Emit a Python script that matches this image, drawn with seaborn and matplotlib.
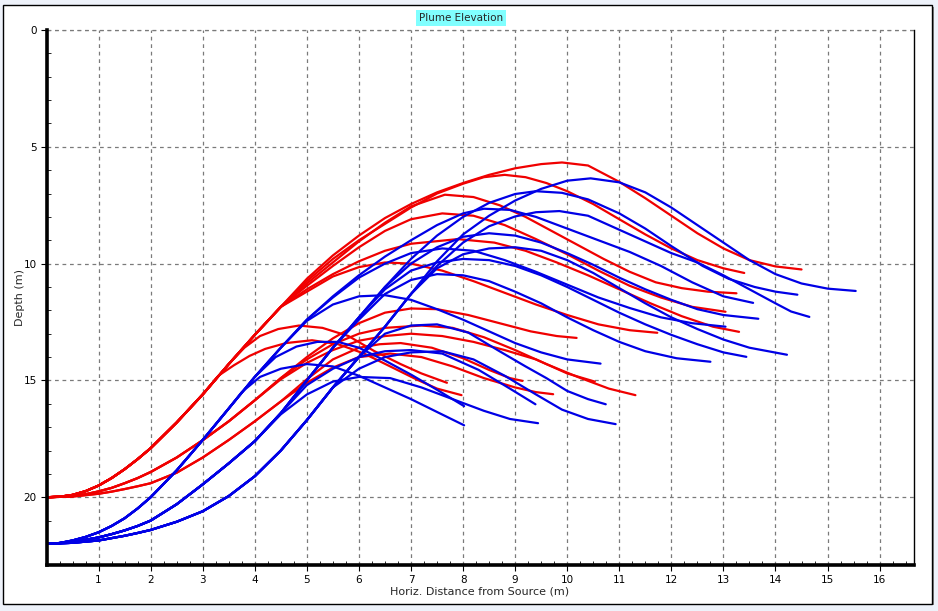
import matplotlib
matplotlib.use("Agg")
import matplotlib.pyplot as plt
from matplotlib.patches import Rectangle
from matplotlib.ticker import MultipleLocator
import seaborn as sns
import pandas as pd

# ---------------- data (x = horizontal distance m, d = depth m) ----------------
X_TICKS = list(range(1, 17))
Y_TICKS = [0, 5, 10, 15, 20]

# shared rising portions of the three red (port at 20 m) and three blue (port at 22 m) bundles
RED_A = [(0, 20), (0.25, 19.98), (0.5, 19.9), (0.75, 19.74), (1, 19.5), (1.25, 19.18), (1.5, 18.8), (1.75, 18.37), (2, 17.9),
         (2.5, 16.8), (3, 15.6), (3.5, 14.3), (4, 13.05), (4.5, 11.85)]
RED_B = [(0, 20), (0.5, 19.95), (0.75, 19.87), (1, 19.75), (1.25, 19.6), (1.5, 19.4), (1.75, 19.18), (2, 18.92), (2.5, 18.3),
         (3, 17.56), (3.5, 16.75), (4, 15.85), (4.5, 14.9)]
RED_C = [(0, 20), (0.5, 19.97), (1, 19.85), (1.25, 19.76), (1.5, 19.65), (1.75, 19.53), (2, 19.4), (2.5, 18.95), (3, 18.3),
         (3.5, 17.55), (4, 16.75), (4.5, 15.9)]
BLUE_A = [(0, 22), (0.25, 21.96), (0.5, 21.85), (0.75, 21.7), (1, 21.5), (1.25, 21.23), (1.5, 20.9), (1.75, 20.48), (2, 20.0),
          (2.5, 18.85), (3, 17.55), (3.5, 16.2), (4, 14.85), (4.5, 13.6), (5, 12.4), (5.5, 11.4)]
BLUE_B = [(0, 22), (0.5, 21.92), (1, 21.72), (1.25, 21.58), (1.5, 21.42), (1.75, 21.23), (2, 21.0), (2.5, 20.3), (3, 19.45),
          (3.5, 18.55), (4, 17.6), (4.5, 16.4), (5, 15.0), (5.5, 13.6), (6, 12.3), (6.5, 11.0)]
BLUE_C = [(0, 22), (0.5, 21.95), (1, 21.85), (1.5, 21.65), (1.75, 21.53), (2, 21.4), (2.5, 21.05), (3, 20.6), (3.5, 19.95),
          (4, 19.1), (4.5, 18.0), (5, 16.7), (5.5, 15.3), (6, 14.0), (6.5, 12.7), (7, 11.3)]

# individual trajectories after leaving their bundle
R1 = [(5, 10.65), (5.5, 9.65), (6, 8.8), (6.5, 8.05), (7, 7.45), (7.5, 6.95), (8, 6.55), (8.5, 6.2), (9, 5.92), (9.5, 5.74), (9.9, 5.67), (10.4, 5.8), (11, 6.5), (11.5, 7.2), (12, 7.95), (12.5, 8.7), (13, 9.35), (13.5, 9.85), (14, 10.12), (14.5, 10.25)]
R2 = [(5, 10.75), (5.5, 9.8), (6, 9.0), (6.5, 8.3), (7, 7.6), (7.5, 7.0), (8, 6.58), (8.4, 6.3), (8.8, 6.2), (9.2, 6.3), (9.6, 6.55), (10, 6.9), (10.5, 7.45), (11, 8.1), (11.5, 8.75), (12, 9.35), (12.5, 9.85), (13, 10.2), (13.4, 10.4)]
R3 = [(5, 10.85), (5.5, 9.95), (6, 9.05), (6.5, 8.25), (7, 7.55), (7.65, 7.05), (8.2, 7.15), (8.7, 7.5), (9.2, 8.0), (9.7, 8.6), (10.2, 9.2), (10.7, 9.8), (11.2, 10.35), (11.7, 10.8), (12.2, 11.05), (12.7, 11.2), (13.25, 11.27)]
R4 = [(5, 10.95), (5.5, 10.1), (6, 9.3), (6.5, 8.6), (7, 8.1), (7.6, 7.85), (8.2, 7.95), (8.8, 8.35), (9.4, 8.95), (10, 9.6), (10.6, 10.3), (11.2, 10.95), (11.8, 11.45), (12.4, 11.85), (13.04, 12.06)]
R5 = [(5, 11.1), (5.5, 10.45), (6, 9.9), (6.5, 9.45), (7, 9.15), (7.9, 8.95), (8.6, 9.1), (9.2, 9.45), (9.8, 9.95), (10.4, 10.5), (11, 11.1), (11.6, 11.7), (12.2, 12.25), (12.8, 12.7), (13.3, 12.92)]
R6 = [(5, 11.2), (5.5, 10.55), (6, 10.15), (6.5, 9.95), (7, 10.0), (7.6, 10.3), (8.2, 10.75), (8.8, 11.25), (9.4, 11.75), (10, 12.2), (10.6, 12.6), (11.2, 12.85), (11.73, 12.96)]
R7 = [(4.5, 14.9), (5, 14.0), (5.5, 13.2), (6, 12.55), (6.5, 12.1), (7, 11.92), (7.5, 11.95), (8.1, 12.2), (8.7, 12.55), (9.3, 12.9), (9.8, 13.1), (10.18, 13.18)]
R8 = [(3.5, 14.3), (3.8, 13.6), (4.1, 13.1), (4.45, 12.8), (4.85, 12.65), (5.3, 12.75), (5.8, 13.1), (6.3, 13.75), (6.8, 14.3), (7.2, 14.7), (7.69, 15.1)]
R9 = [(3.3, 14.8), (3.6, 14.35), (3.9, 13.95), (4.2, 13.65), (4.6, 13.4), (5.1, 13.28), (5.6, 13.45), (6.1, 13.85), (6.6, 14.4), (7.1, 14.95), (7.5, 15.35), (7.97, 15.63)]
R10 = [(4.5, 15.9), (5, 14.95), (5.5, 14.1), (6, 13.6), (6.4, 13.45), (6.8, 13.4), (7.4, 13.6), (8, 14.05), (8.5, 14.55), (8.9, 14.9), (9.14, 15.02)]
R11 = [(4.5, 14.95), (5, 14.25), (5.5, 13.7), (6, 13.3), (6.5, 13.1), (7, 13.0), (7.6, 13.1), (8.2, 13.35), (8.8, 13.7), (9.4, 14.1), (10, 14.7), (10.53, 15.05)]
R12 = [(4.5, 15.9), (5, 15.1), (5.5, 14.45), (6, 14.0), (6.6, 13.85), (7.2, 14.0), (7.8, 14.4), (8.4, 14.9), (9, 15.3), (9.4, 15.5), (9.73, 15.59)]
R13 = [(4.5, 14.9), (5, 14.1), (5.5, 13.45), (6, 13.0), (6.5, 12.75), (7.2, 12.65), (7.8, 12.75), (8.4, 13.15), (9, 13.7), (9.6, 14.3), (10.2, 14.85), (10.8, 15.35), (11.31, 15.63)]

B1 = [(7, 11.3), (7.5, 9.9), (8, 8.75), (8.5, 7.95), (9, 7.3), (9.5, 6.8), (10, 6.45), (10.45, 6.35), (11, 6.52), (11.5, 6.95), (12, 7.6), (12.5, 8.35), (13, 9.1), (13.5, 9.85), (14, 10.45), (14.5, 10.85), (15, 11.07), (15.54, 11.17)]
B2 = [(6.5, 11.0), (7, 9.8), (7.5, 8.8), (8, 8.0), (8.5, 7.4), (9, 7.02), (9.4, 6.9), (9.9, 6.97), (10.4, 7.25), (11, 7.85), (11.5, 8.5), (12, 9.25), (12.6, 10.1), (13.1, 10.65), (13.6, 11.0), (14, 11.2), (14.42, 11.33)]
B3 = [(7, 11.3), (7.5, 10.1), (8, 9.1), (8.5, 8.4), (9, 7.98), (9.4, 7.8), (9.85, 7.75), (10.4, 7.95), (11, 8.55), (11.5, 9.05), (12, 9.55), (12.5, 9.95), (13, 10.5), (13.5, 11.1), (14, 11.7), (14.3, 12.05), (14.65, 12.28)]
B4 = [(5.5, 11.4), (6, 10.5), (6.5, 9.7), (7, 9.0), (7.5, 8.35), (8, 7.85), (8.4, 7.65), (8.9, 7.7), (9.4, 8.0), (10, 8.5), (10.6, 9.0), (11.2, 9.5), (11.8, 10.1), (12.4, 10.8), (13, 11.4), (13.57, 11.68)]
B5 = [(6.5, 11.0), (7, 10.0), (7.5, 9.3), (8, 8.85), (8.5, 8.7), (9, 8.8), (9.5, 9.1), (10, 9.55), (10.5, 10.05), (11, 10.6), (11.5, 11.1), (12, 11.55), (12.5, 11.95), (13, 12.2), (13.67, 12.36)]
B6 = [(5.5, 11.45), (6, 10.6), (6.5, 10.0), (7, 9.55), (7.6, 9.35), (8.2, 9.45), (8.8, 9.85), (9.4, 10.35), (10, 10.9), (10.6, 11.45), (11.2, 11.9), (11.8, 12.3), (12.4, 12.55), (13.04, 12.7)]
B7 = [(7, 11.3), (7.5, 10.2), (8, 9.6), (8.5, 9.35), (9, 9.3), (9.5, 9.45), (10, 9.85), (10.5, 10.4), (11, 11.05), (11.5, 11.7), (12, 12.3), (12.5, 12.8), (13, 13.25), (13.5, 13.6), (14.22, 13.9)]
B8 = [(6.5, 11.1), (7, 10.3), (7.5, 9.95), (8, 9.8), (8.5, 9.85), (9, 10.1), (9.5, 10.5), (10, 11.0), (10.5, 11.55), (11, 12.1), (11.5, 12.6), (12, 13.05), (12.5, 13.45), (13, 13.8), (13.44, 13.99)]
B9 = [(6, 12.4), (6.5, 11.3), (7, 10.7), (7.5, 10.45), (8, 10.5), (8.5, 10.75), (9, 11.2), (9.5, 11.7), (10, 12.3), (10.5, 12.85), (11, 13.35), (11.5, 13.75), (12.1, 14.05), (12.75, 14.2)]
B10 = [(5, 12.45), (5.5, 11.75), (6, 11.4), (6.5, 11.35), (7, 11.55), (7.5, 11.95), (8, 12.4), (8.5, 12.9), (9, 13.4), (9.5, 13.8), (10, 14.1), (10.64, 14.28)]
B11 = [(6, 14.0), (6.5, 13.0), (7, 12.65), (7.5, 12.6), (8.1, 12.95), (8.7, 13.75), (9.2, 14.4), (9.6, 14.9), (10, 15.45), (10.4, 15.8), (10.74, 16.02)]
B12 = [(5.5, 15.3), (6, 14.5), (6.5, 14.0), (7, 13.8), (7.6, 13.75), (8.2, 14.1), (8.8, 14.8), (9.4, 15.6), (9.9, 16.25), (10.4, 16.65), (10.93, 16.87)]
B13 = [(5, 15.2), (5.5, 14.5), (6, 14.0), (6.5, 13.75), (7, 13.7), (7.6, 13.85), (8.3, 14.55), (8.9, 15.35), (9.39, 16.02)]
B14 = [(4.5, 16.45), (5, 15.6), (5.5, 15.05), (6, 14.85), (6.6, 14.9), (7.2, 15.3), (7.8, 15.8), (8.4, 16.3), (8.9, 16.65), (9.44, 16.83)]
B15 = [(4, 14.85), (4.4, 14.0), (4.8, 13.55), (5.2, 13.35), (5.6, 13.35), (6, 13.6), (6.5, 14.15), (7, 14.75), (7.5, 15.4), (8.02, 16.1)]
B16 = [(3.75, 15.5), (4.1, 14.85), (4.5, 14.5), (5, 14.3), (5.5, 14.4), (6, 14.8), (6.5, 15.3), (7, 15.8), (7.5, 16.35), (8.02, 16.92)]

RED_CURVES = [("R1", RED_A, R1), ("R2", RED_A, R2), ("R3", RED_A, R3), ("R4", RED_A, R4),
              ("R5", RED_A, R5), ("R6", RED_A, R6), ("R8", RED_A, R8), ("R9", RED_A, R9),
              ("R7", RED_B, R7), ("R11", RED_B, R11), ("R13", RED_B, R13),
              ("R10", RED_C, R10), ("R12", RED_C, R12)]
BLUE_CURVES = [("B4", BLUE_A, B4), ("B6", BLUE_A, B6), ("B10", BLUE_A, B10), ("B15", BLUE_A, B15), ("B16", BLUE_A, B16),
               ("B2", BLUE_B, B2), ("B5", BLUE_B, B5), ("B8", BLUE_B, B8), ("B9", BLUE_B, B9), ("B13", BLUE_B, B13), ("B14", BLUE_B, B14),
               ("B1", BLUE_C, B1), ("B3", BLUE_C, B3), ("B7", BLUE_C, B7), ("B11", BLUE_C, B11), ("B12", BLUE_C, B12)]

rows = []
for group, curves in (("red", RED_CURVES), ("blue", BLUE_CURVES)):
    for name, rise, tail in curves:
        pts = [p for p in rise if p[0] < tail[0][0]] + tail
        for i, (x, d) in enumerate(pts):
            rows.append({"curve": name, "group": group, "order": i, "x": x, "depth": d})
df = pd.DataFrame(rows)

# ---------------- figure ----------------
W, H = 938, 611
sns.set_style("white")
plt.rcParams["font.family"] = ["DejaVu Sans"]

fig = plt.figure(figsize=(W / 100, H / 100), dpi=100)
fig.patch.set_facecolor("#eef2fa")
fig.patches.append(Rectangle((932 / W, 1 - 605 / H), 2 / W, 598 / H, transform=fig.transFigure,
                             facecolor="#8a8a8a", edgecolor="none", zorder=-20))
fig.patches.append(Rectangle((3 / W, 1 - 604 / H), 929 / W, 599 / H, transform=fig.transFigure,
                             facecolor="white", edgecolor="black", linewidth=1.0, zorder=-10))

ax = fig.add_axes([46.5 / W, 1 - 565 / H, (914 - 46.5) / W, (565 - 30) / H])
ax.set_facecolor("white")
ax.set_zorder(5)

sns.lineplot(data=df, x="x", y="depth", hue="group", units="curve", estimator=None,
             sort=False, palette={"red": "#f00000", "blue": "#0000e6"},
             linewidth=1.6, legend=False, ax=ax)
for ln in ax.get_lines():
    ln.set_solid_joinstyle("round")
    ln.set_solid_capstyle("round")

ax.set_xlim(0, 16.66)
ax.set_ylim(22.9, 0)
ax.set_xticks(X_TICKS)
ax.set_yticks(Y_TICKS)
ax.xaxis.set_minor_locator(MultipleLocator(0.25))
ax.yaxis.set_minor_locator(MultipleLocator(1))
ax.grid(True, which="major", color="#7a7a7a", linestyle=(0, (3, 3)), linewidth=0.9)
ax.axhline(0, color="#7a7a7a", linestyle=(0, (3, 3)), linewidth=0.9, clip_on=False)
ax.set_axisbelow(True)

for s in ("left", "bottom"):
    ax.spines[s].set_linewidth(2.6)
    ax.spines[s].set_color("black")
ax.spines["right"].set_linewidth(1.0)
ax.spines["right"].set_color("black")
ax.spines["top"].set_visible(False)

ax.tick_params(axis="both", which="major", direction="out", length=4, width=0.8,
               labelsize=7.5, colors="black", pad=3, bottom=True, left=True)
ax.tick_params(axis="x", which="minor", direction="in", length=3, width=0.7, bottom=True)
ax.tick_params(axis="y", which="minor", direction="in", length=3, width=0.7, left=True)
ax.set_xlabel("")
ax.set_ylabel("")

fig.text(480 / W, 1 - 592 / H, "Horiz. Distance from Source (m)", ha="center", va="center", fontsize=8)
fig.text(20 / W, 1 - 297 / H, "Depth (m)", ha="center", va="center", rotation=90, fontsize=8)
fig.text(461 / W, 1 - 18 / H, "Plume Elevation", ha="center", va="center", fontsize=7.5,
         bbox=dict(boxstyle="square,pad=0.25", facecolor="#80ffff", edgecolor="none"))

fig.savefig("out.png", dpi=100, facecolor=fig.get_facecolor())
